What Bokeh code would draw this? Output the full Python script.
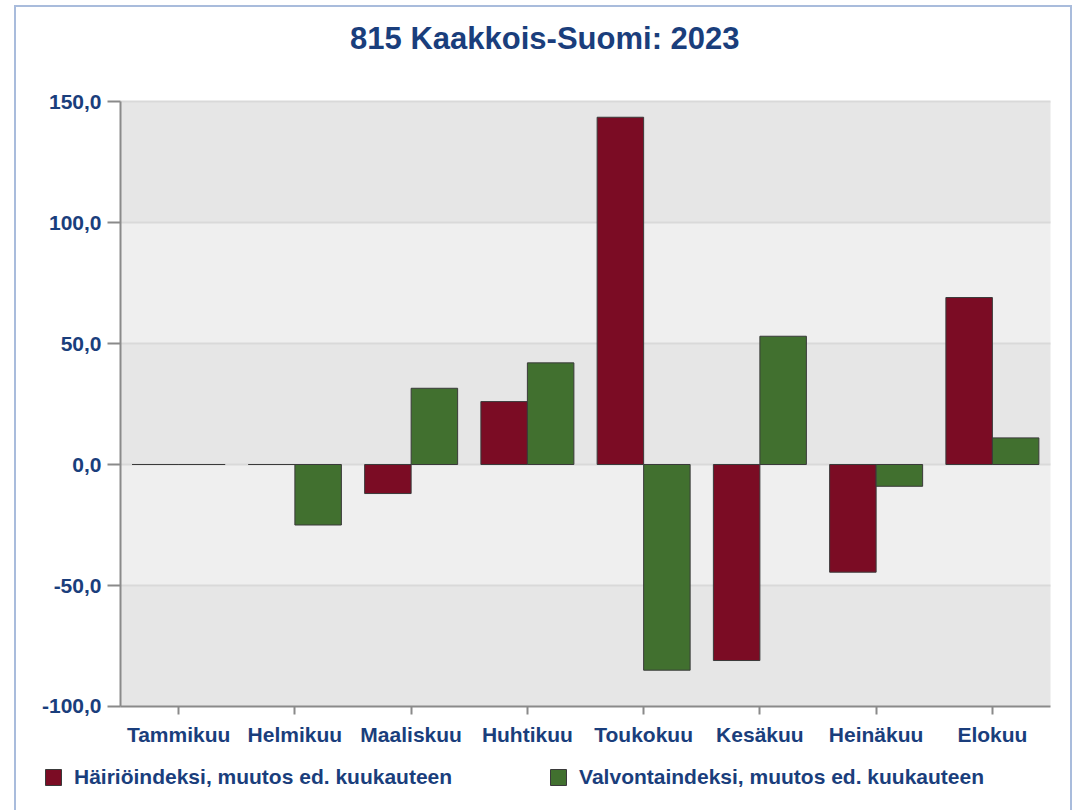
from bokeh.plotting import figure
from bokeh.models import (Range1d, FixedTicker, Legend, LegendItem, Label,
                          ColumnDataSource, InlineStyleSheet)
from bokeh.transform import dodge
from bokeh.embed import file_html
from bokeh.resources import INLINE

title_text = "815 Kaakkois-Suomi: 2023"
months = ["Tammikuu", "Helmikuu", "Maaliskuu", "Huhtikuu",
          "Toukokuu", "Kesäkuu", "Heinäkuu", "Elokuu"]
hairio = [0.0, 0.0, -12.0, 26.0, 143.5, -81.0, -44.5, 69.0]
valvonta = [0.0, -25.0, 31.5, 42.0, -85.0, 53.0, -9.0, 11.0]
series_names = ["Häiriöindeksi, muutos ed. kuukauteen",
                "Valvontaindeksi, muutos ed. kuukauteen"]
y_ticks = [-100, -50, 0, 50, 100, 150]
y_tick_labels = ["-100,0", "-50,0", "0,0", "50,0", "100,0", "150,0"]

NAVY = "#1a3e7c"
RED = "#7b0c24"
GREEN = "#41702f"
FONT = "Liberation Sans"
BAND_DARK = "#e6e6e6"
BAND_LIGHT = "#efefef"

n = len(months)
centers = [i + 0.5 for i in range(n)]
src = ColumnDataSource(dict(x=centers, month=months, hairio=hairio, valvonta=valvonta))

# the frame fills the whole canvas; the axes sit at fixed data locations
p = figure(x_range=Range1d(-1.0323, n + 0.1892), y_range=Range1d(-142.15, 191.74),
           width=1072, height=808, output_backend="svg", toolbar_location=None,
           min_border=0)
p.background_fill_color = "white"
p.border_fill_color = "white"
p.outline_line_color = None
p.xgrid.visible = False
p.ygrid.visible = False

# alternating background bands and grid lines of the plot area
band_bottom = y_ticks[:-1]
band_top = y_ticks[1:]
band_color = [BAND_DARK if i % 2 == 0 else BAND_LIGHT for i in range(len(band_bottom))]
p.quad(left=0, right=n, bottom=band_bottom, top=band_top, fill_color=band_color,
       line_color=None, level="underlay")
p.segment(x0=0, x1=n, y0=y_ticks[1:], y1=y_ticks[1:], line_color="#d9d9d9",
          line_width=2, level="underlay")

r1 = p.vbar(x=dodge("x", -0.2), top="hairio", bottom=0, width=0.4, source=src,
            fill_color=RED, line_color="#3a3a3a", line_width=1)
r2 = p.vbar(x=dodge("x", 0.2), top="valvonta", bottom=0, width=0.4, source=src,
            fill_color=GREEN, line_color="#3a3a3a", line_width=1)

for ax in (p.xaxis[0], p.yaxis[0]):
    ax.axis_line_color = "#8a8a8a"
    ax.axis_line_width = 2
    ax.major_tick_line_color = "#8a8a8a"
    ax.major_tick_line_width = 2
    ax.minor_tick_line_color = None
    ax.major_tick_in = 0
    ax.major_label_text_font = FONT
    ax.major_label_text_font_size = "21px"
    ax.major_label_text_font_style = "bold"
    ax.major_label_text_color = NAVY

p.yaxis.fixed_location = 0
p.yaxis.bounds = (y_ticks[0], y_ticks[-1])
p.yaxis.ticker = FixedTicker(ticks=y_ticks)
p.yaxis.major_label_overrides = {t: s for t, s in zip(y_ticks, y_tick_labels)}
p.yaxis.major_tick_out = 13
p.yaxis.major_label_standoff = 6

p.xaxis.fixed_location = y_ticks[0]
p.xaxis.bounds = (0, n)
p.xaxis.ticker = FixedTicker(ticks=centers)
p.xaxis.major_label_overrides = {c: m for c, m in zip(centers, months)}
p.xaxis.major_tick_out = 8
p.xaxis.major_label_standoff = 9
p.xaxis.major_label_orientation = "horizontal"

title = Label(x=3.65, y=176, text=title_text, text_align="center",
              text_baseline="middle", text_font=FONT, text_font_size="31px",
              text_font_style="bold", text_color=NAVY)
p.add_layout(title)

legend = Legend(items=[LegendItem(label=series_names[0], renderers=[r1]),
                       LegendItem(label=series_names[1], renderers=[r2])],
                orientation="horizontal", location=(43, 19),
                glyph_width=20, glyph_height=20, label_height=20,
                label_standoff=11, spacing=96, padding=0, margin=0,
                border_line_alpha=0, background_fill_alpha=0,
                label_text_font=FONT, label_text_font_size="21px",
                label_text_font_style="bold", label_text_color=NAVY)
p.add_layout(legend, "center")

p.stylesheets = [InlineStyleSheet(css="""
:host { position: relative; }
:host::after { content: ""; position: absolute; left: 14px; top: 5px;
  right: 0px; bottom: -20px; border: 2px solid #a9bcdc; pointer-events: none; }
""")]

open("out.html", "w").write(file_html(p, INLINE))
